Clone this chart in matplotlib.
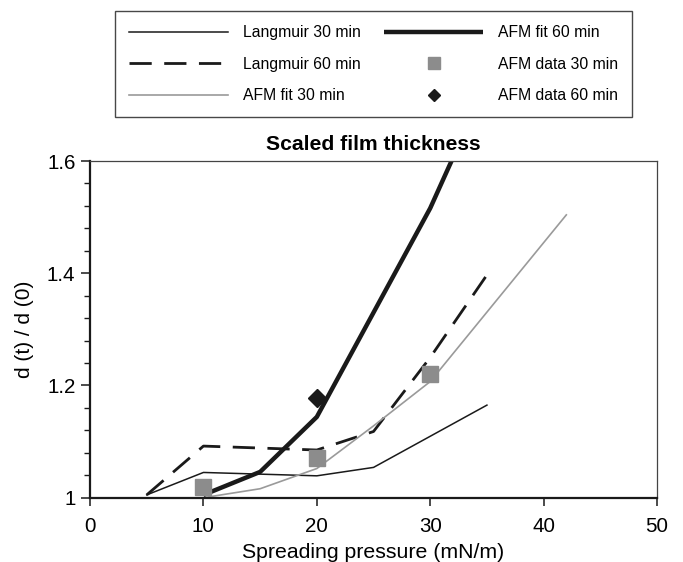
import matplotlib
matplotlib.use("Agg")
import matplotlib.pyplot as plt
from matplotlib.ticker import MultipleLocator

plt.rcParams.update({
    "font.family": ["Liberation Sans", "DejaVu Sans"],
    "font.size": 12,
})

# Spreading pressure (mN/m) and scaled thickness d(t)/d(0)
langmuir_30_x = [5, 10, 20, 25, 35]
langmuir_30_y = [1.005, 1.045, 1.039, 1.054, 1.165]

langmuir_60_x = [5, 10, 20, 25, 30, 35]
langmuir_60_y = [1.005, 1.092, 1.085, 1.118, 1.250, 1.397]

afm_fit_30_x = [10, 15, 20, 25, 30, 42]
afm_fit_30_y = [1.0, 1.016, 1.052, 1.128, 1.207, 1.504]

afm_fit_60_x = [10, 15, 20, 25, 30, 35]
afm_fit_60_y = [1.005, 1.046, 1.144, 1.330, 1.516, 1.740]

afm_data_30_x = [10, 20, 30]
afm_data_30_y = [1.019, 1.070, 1.221]

afm_data_60_x = [20]
afm_data_60_y = [1.177]

BLACK = "#1a1a1a"
GREY_LINE = "#9a9a9a"
GREY_MARK = "#8c8c8c"

fig = plt.figure(figsize=(6.83, 5.62), dpi=100)
ax = fig.add_axes([0.1318, 0.1144, 0.8302, 0.5991])

h1, = ax.plot(langmuir_30_x, langmuir_30_y, color=BLACK, lw=1.1,
              label="Langmuir 30 min")
h2, = ax.plot(langmuir_60_x, langmuir_60_y, color=BLACK, lw=2.0,
              dashes=(8, 4.5), label="Langmuir 60 min")
h3, = ax.plot(afm_fit_30_x, afm_fit_30_y, color=GREY_LINE, lw=1.2,
              label="AFM fit 30 min")
h4, = ax.plot(afm_fit_60_x, afm_fit_60_y, color=BLACK, lw=3.2,
              solid_capstyle="butt", label="AFM fit 60 min")
h5, = ax.plot(afm_data_30_x, afm_data_30_y, ls="none", marker="s",
              ms=11.5, color=GREY_MARK, mec=GREY_MARK, label="AFM data 30 min")
h6, = ax.plot(afm_data_60_x, afm_data_60_y, ls="none", marker="D",
              ms=9, color=BLACK, mec=BLACK, label="AFM data 60 min")

ax.set_xlim(0, 50)
ax.set_ylim(1.0, 1.6)
ax.xaxis.set_major_locator(MultipleLocator(10))
ax.yaxis.set_minor_locator(MultipleLocator(0.04))
ax.set_yticks([1.0, 1.2, 1.4, 1.6])
ax.set_yticklabels(["1", "1.2", "1.4", "1.6"])

ax.tick_params(axis="both", which="major", direction="out", length=6,
               width=1.1, labelsize=14.8, color=BLACK)
ax.tick_params(axis="x", which="major", pad=8)
ax.tick_params(axis="y", which="major", length=6.5, pad=4)
ax.tick_params(axis="y", which="minor", direction="out", length=4,
               width=1.0, color=BLACK)

for side in ("left", "bottom"):
    ax.spines[side].set_linewidth(1.6)
    ax.spines[side].set_color(BLACK)
for side in ("top", "right"):
    ax.spines[side].set_linewidth(0.9)
    ax.spines[side].set_color("#444444")

ax.set_xlabel("Spreading pressure (mN/m)", fontsize=15.3, labelpad=5)
ax.set_ylabel("d (t) / d (0)", fontsize=15, labelpad=9)
ax.set_title("Scaled film thickness", fontsize=15.2, fontweight="bold", pad=8)

leg = fig.legend(
    handles=[h1, h2, h3, h4, h5, h6],
    loc="upper left",
    bbox_to_anchor=(115 / 683, 1 - 11 / 562),
    ncol=2,
    fontsize=11.3,
    handlelength=6.3,
    handletextpad=0.95,
    columnspacing=1.5,
    labelspacing=1.05,
    borderpad=0.9,
    markerscale=0.7,
    frameon=True,
    fancybox=False,
    borderaxespad=0,
)
frame = leg.get_frame()
frame.set_edgecolor(BLACK)
frame.set_linewidth(1.0)

fig.savefig("out.png", dpi=100)
plt.close(fig)
